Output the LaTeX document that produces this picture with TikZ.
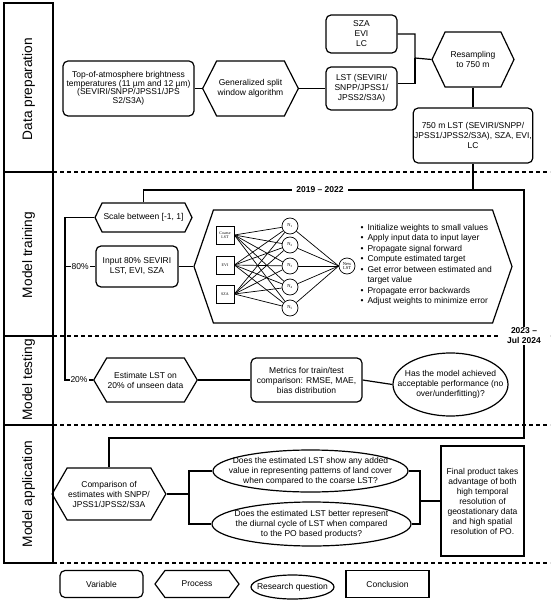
\documentclass[tikz,border=0pt]{standalone}
\usepackage{fontspec}
\setmainfont{Liberation Sans}
\newfontfamily\nnserif{Liberation Serif}
\usetikzlibrary{shapes.geometric, shapes.symbols, positioning}

\newcommand\fs{\fontsize{8.5}{10}\selectfont}

\begin{document}
\begin{tikzpicture}[x=1pt, y=-1pt, line width=1.2pt,
          var/.style={rectangle, rounded corners=5pt, draw, align=center, inner sep=1pt, font=\fs},
          proc/.style={signal, signal to=east and west, draw, align=center, inner sep=1pt, font=\fs},
          ques/.style={ellipse, draw, align=center, inner xsep=-25pt, inner ysep=-4pt, font=\fs},
          concl/.style={rectangle, draw, align=center, inner sep=1pt, font=\fs},
          sect/.style={rotate=90, font=\fontsize{13.7}{16}\selectfont},
          period/.style={fill=white, align=center, inner xsep=4pt, inner ysep=1pt, font=\fs\bfseries},
          share/.style={fill=white, inner sep=1pt, font=\fs},
          band/.style={dash pattern=on 4pt off 3pt},
          inbox/.style={rectangle, draw, line width=0.7pt, minimum size=18pt, inner sep=0pt, align=center,
            font=\nnserif\fontsize{4}{4.5}\selectfont},
          neur/.style={circle, draw, line width=0.7pt, minimum size=16pt, inner sep=0pt, align=center,
            font=\nnserif\fontsize{4.5}{4.5}\selectfont},
          wire/.style={line width=0.7pt}]
        \useasboundingbox (0,0) rectangle (550,601);
        % swim lanes
        \draw (4,3) rectangle (53,563);
        \foreach \y in {172,336,425} {\draw (4,\y) -- (53,\y);}
        \foreach \y in {172,336,425,563} {\draw[band] (53,\y) -- (550,\y);}
        \node[sect] (secdata) at (28.5,89) {Data preparation};
        \node[sect] (sectrain) at (28.5,255) {Model training};
        \node[sect] (sectest) at (28.5,380) {Model testing};
        \node[sect] (secapp) at (28.5,494) {Model application};
        % data preparation
        \node[var, minimum width=131pt, minimum height=55pt, font=\fontsize{8.5}{8.6}\selectfont] (toa) at (128.5,88.5)
          {Top-of-atmosphere brightness\\temperatures (11 µm and 12 µm)\\(SEVIRI/SNPP/JPSS1/JPS\\S2/S3A)};
        \node[proc, minimum width=83pt, minimum height=55pt, signal pointer angle=126] (gsw) at (250.5,88.5)
          {Generalized split\\window algorithm};
        \node[var, minimum width=71pt, minimum height=38pt] (anc) at (361.5,34) {SZA\\EVI\\LC};
        \node[var, minimum width=71pt, minimum height=43pt] (lst) at (361.5,88.5) {LST (SEVIRI/\\SNPP/JPSS1/\\JPSS2/S3A)};
        \node[proc, minimum width=82pt, minimum height=55pt, signal pointer angle=129] (res) at (473,59.5) {Resampling\\to 750 m};
        \node[var, minimum width=112pt, minimum height=55pt] (lst750) at (473,135.5)
          {750 m LST (SEVIRI/SNPP/\\JPSS1/JPSS2/S3A), SZA, EVI,\\LC};
        \coordinate (merge) at (415,58);
        \draw (toa.east) -- (gsw.west);
        \draw (gsw.east) -- (lst.west);
        \draw (anc.east) -| (merge) -- (res.west);
        \draw ([yshift=5pt]lst.east) -| (merge);
        \draw (res.south) -- (lst750.north);
        % model training
        \node[proc, minimum width=97pt, minimum height=29pt, signal pointer angle=128] (scale) at (143.5,217.5) {Scale between [-1, 1]};
        \node[var, minimum width=82pt, minimum height=41pt] (inp) at (137,266.5) {Input 80\% SEVIRI\\LST, EVI, SZA};
        \node[proc, minimum width=318pt, minimum height=113pt, signal pointer angle=142] (ann) at (353,266.5) {};
        \node[inbox] (x1) at (225,235) {Coarse\\LST};
        \node[inbox] (x2) at (225,265) {EVI};
        \node[inbox] (x3) at (225,294) {SZA};
        \foreach \i/\y in {1/226,2/245,3/266,4/287,5/308} {\node[neur] (h\i) at (290,\y) {N\textsubscript{\i}};}
        \node[neur] (out) at (347,266) {New\\LST};
        \foreach \a in {1,2,3}{\foreach \b in {1,...,5}{\draw[wire] (x\a.east) -- (h\b);}}
        \foreach \b in {1,...,5}{\draw[wire] (h\b) -- (out.west);}
        \node[anchor=west, align=left, inner sep=0pt, font=\fontsize{8.5}{10.5}\selectfont] (steps) at (360,265)
          {\textbullet\hspace{4pt}Initialize weights to small values\\
           \textbullet\hspace{4pt}Apply input data to input layer\\
           \textbullet\hspace{4pt}Propagate signal forward\\
           \textbullet\hspace{4pt}Compute estimated target\\
           \textbullet\hspace{4pt}Get error between estimated and\\
           \phantom{\textbullet\hspace{4pt}}target value\\
           \textbullet\hspace{4pt}Propagate error backwards\\
           \textbullet\hspace{4pt}Adjust weights to minimize error};
        \draw (inp.east) -- (ann.west);
        % model testing
        \node[proc, minimum width=97pt, minimum height=44pt, signal pointer angle=119] (est) at (145.5,380) {Estimate LST on\\20\% of unseen data};
        \node[var, minimum width=111pt, minimum height=44pt] (met) at (306.5,380) {Metrics for train/test\\comparison: RMSE, MAE,\\bias distribution};
        \node[ques, minimum width=115pt, minimum height=63pt] (perf) at (450.5,384.5)
          {Has the model achieved\\acceptable performance (no\\over/underfitting)?};
        \draw (est.east) -- (met.west);
        \draw (met.east) -- (perf.west);
        % model application
        \node[proc, minimum width=92pt, minimum height=52pt, signal pointer angle=120] (comp) at (109,494)
          {Comparison of\\estimates with SNPP/\\JPSS1/JPSS2/S3A};
        \node[ques, minimum width=195pt, minimum height=42pt] (q1) at (310.5,471)
          {Does the estimated LST show any added\\value in representing patterns of land cover\\when compared to the coarse LST?};
        \node[ques, minimum width=199pt, minimum height=44pt] (q2) at (311.5,524)
          {Does the estimated LST better represent\\the diurnal cycle of LST when compared\\to the PO based products?};
        \node[concl, minimum width=83pt, minimum height=110pt] (fin) at (482.5,501)
          {Final product takes\\advantage of both\\high temporal\\resolution of\\geostationary data\\and high spatial\\resolution of PO.};
        \coordinate (qfork) at (189,494);
        \coordinate (qjoin) at (420,501);
        \draw (comp.east) -- (qfork);
        \draw (q1.west) -| (qfork) |- (q2.west);
        \draw (q1.east) -| (qjoin) |- (q2.east);
        \draw (qjoin) -- (fin.west);
        % splitting of the years
        \coordinate (fork) at (473,190);
        \coordinate (rtop) at (524,190);
        \coordinate (rbot) at (524,438);
        \coordinate (share80) at (65,266.5);
        \coordinate (share20) at (65,380);
        \draw (lst750.south) -- (fork);
        \draw (scale.north) |- (rtop) -- (rbot) -| (comp.north);
        \draw (scale.west) -| (share20) -- node[share] {20\%} (est.west);
        \draw (share80) -- node[share] {80\%} (inp.west);
        \node[period] (yrtrain) at (320,190) {2019 – 2022};
        \node[period, inner xsep=6pt] (yrtest) at (524,336) {2023 –\\Jul 2024};
        % legend
        \node[var, minimum width=83pt, minimum height=27pt] (lgvar) at (101.5,584) {Variable};
        \node[proc, minimum width=84pt, minimum height=27pt, signal pointer angle=107] (lgproc) at (197,584) {Process};
        \node[ques, minimum width=83pt, minimum height=24pt] (lgques) at (292.5,587) {Research question};
        \node[concl, minimum width=83pt, minimum height=27pt] (lgconc) at (387.5,584) {Conclusion};
      \end{tikzpicture}
\end{document}
